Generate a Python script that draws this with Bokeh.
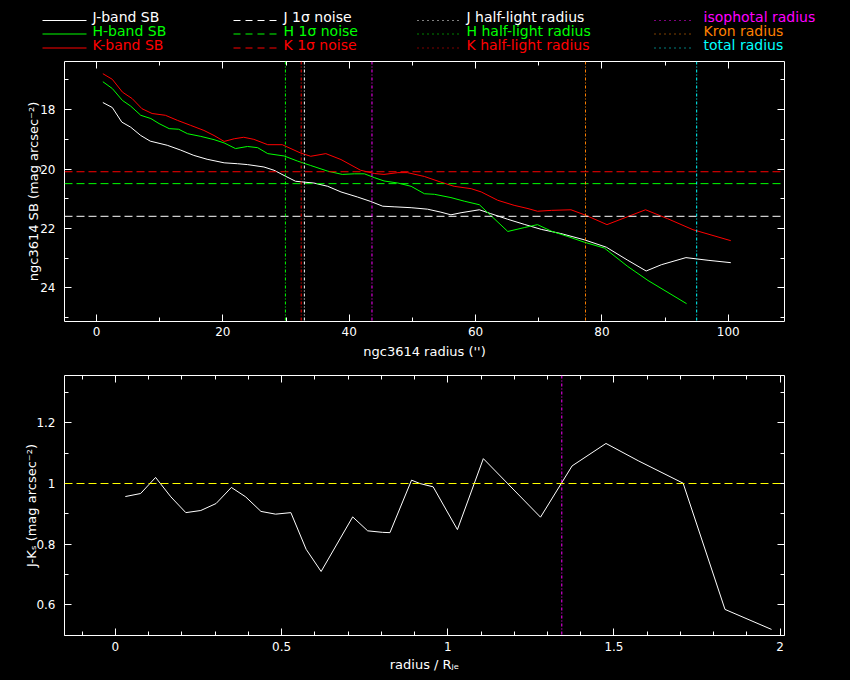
from bokeh.plotting import figure
from bokeh.models import Range1d, LinearAxis, Span, SingleIntervalTicker, CustomJSTickFormatter
from bokeh.layouts import column
from bokeh.embed import file_html
from bokeh.resources import INLINE
from bokeh.core.properties import value

# ---------------- data ----------------
j_r = [1.0, 2.5, 4.0, 5.4, 7.0, 8.5, 11.2, 13.3, 15.4, 17.5, 20.2, 22.3, 23.9, 26.5, 28.1,
       30.0, 31.5, 32.9, 34.4, 36.6, 38.7, 41.3, 43.4, 45.3, 47.1, 49.8, 52.4, 54.5, 56.1,
       57.7, 60.6, 62.4, 65.1, 67.7, 70.4, 73.5, 77.2, 80.7, 84.1, 87.0, 89.4, 93.3, 96.8, 100.4]
j_sb = [17.76, 17.93, 18.42, 18.59, 18.87, 19.06, 19.20, 19.36, 19.54, 19.67, 19.79, 19.82, 19.85,
        19.93, 20.04, 20.25, 20.41, 20.44, 20.47, 20.58, 20.77, 20.94, 21.09, 21.25, 21.27, 21.30,
        21.35, 21.45, 21.54, 21.47, 21.37, 21.50, 21.69, 21.86, 22.03, 22.17, 22.38, 22.63, 23.07,
        23.43, 23.22, 22.98, 23.07, 23.15]

h_r = [1.0, 2.5, 4.1, 5.4, 7.0, 8.6, 9.9, 11.5, 13.0, 14.4, 16.5, 18.6, 20.2, 22.0, 23.9, 25.5,
       27.1, 29.7, 31.8, 33.9, 36.6, 38.9, 40.8, 42.4, 44.0, 45.5, 47.7, 49.8, 51.9, 53.5, 56.1,
       58.2, 60.6, 65.1, 67.7, 69.8, 72.0, 74.6, 77.2, 80.4, 84.1, 87.3, 93.4]
h_sb = [17.06, 17.29, 17.69, 17.88, 18.19, 18.30, 18.47, 18.64, 18.66, 18.81, 18.90, 19.01, 19.12,
        19.31, 19.24, 19.28, 19.48, 19.56, 19.73, 19.88, 20.07, 20.18, 20.16, 20.16, 20.29, 20.40,
        20.47, 20.58, 20.83, 20.85, 20.96, 21.08, 21.20, 22.10, 21.97, 21.87, 22.09, 22.27, 22.46,
        22.66, 23.28, 23.75, 24.53]

k_r = [1.0, 2.5, 4.1, 5.65, 7.2, 8.8, 10.9, 12.8, 14.9, 17.0, 18.6, 20.2, 21.8, 23.3, 24.9, 27.1,
       29.4, 32.3, 33.9, 36.3, 38.7, 41.8, 44.0, 45.5, 47.7, 49.2, 51.9, 54.5, 56.6, 59.3, 60.9,
       63.5, 66.1, 68.3, 69.8, 72.0, 75.1, 77.5, 80.8, 86.9, 90.4, 94.4, 100.4]
k_sb = [16.79, 16.98, 17.41, 17.63, 17.97, 18.13, 18.19, 18.36, 18.53, 18.70, 18.87, 19.07, 18.98,
        18.93, 19.00, 19.18, 19.18, 19.46, 19.57, 19.48, 19.68, 20.04, 20.15, 20.18, 20.12, 20.12,
        20.25, 20.44, 20.58, 20.66, 20.77, 21.05, 21.22, 21.33, 21.42, 21.39, 21.37, 21.56, 21.87,
        21.37, 21.67, 22.04, 22.41]

noise_sb = [21.59, 20.49, 20.09]          # J, H, K 1-sigma noise
halflight_r = [32.9, 29.9, 32.4]          # J, H, K half-light radius
other_r = [43.6, 77.4, 95.0]              # isophotal, Kron, total radius

color_x = [0.030, 0.076, 0.121, 0.167, 0.212, 0.257, 0.303, 0.349, 0.392, 0.438, 0.482, 0.528,
           0.574, 0.619, 0.714, 0.759, 0.804, 0.826, 0.891, 0.916, 0.956, 1.029, 1.107, 1.279,
           1.374, 1.476, 1.573, 1.708, 1.834, 1.974]
color_jk = [0.957, 0.967, 1.020, 0.956, 0.904, 0.911, 0.934, 0.987, 0.956, 0.908, 0.899, 0.904,
            0.783, 0.710, 0.890, 0.844, 0.839, 0.838, 1.011, 1.000, 0.989, 0.848, 1.082, 0.889,
            1.058, 1.132, 1.075, 1.001, 0.585, 0.519]
color_ref = 1.0
iso_r_norm = 1.343

legend_sb = ["J-band SB", "H-band SB", "K-band SB"]
legend_noise = ["J 1σ noise", "H 1σ noise", "K 1σ noise"]
legend_half = ["J half-light radius", "H half-light radius", "K half-light radius"]
legend_other = ["isophotal radius", "Kron radius", "total radius"]

# ---------------- styles ----------------
FONT = "DejaVu Sans"
BAND_COLORS = ["#ffffff", "#00ff00", "#ff0000"]
OTHER_COLORS = ["#ff00ff", "#ff8000", "#00ffff"]
W = 850
FL, FR = 64, 66
FW, FH = 720, 260
LEG_H = 55
DASH = "8 4"
DOTDASH = "3 2 1 2"

NUMFMT = "return Number(tick.toFixed(4)).toString();"


def frame_fig(xr, yr, top, bottom):
    p = figure(frame_width=FW, frame_height=FH, x_range=xr, y_range=yr,
               output_backend="svg", toolbar_location=None,
               min_border_left=FL, min_border_right=FR,
               min_border_top=top, min_border_bottom=bottom,
               background_fill_color="black", border_fill_color="black",
               outline_line_color="white", outline_line_width=1)
    p.grid.visible = False
    return p


def style_axis(ax, ticker, labels=True, label=None, tstandoff=5, lstandoff=2):
    ax.ticker = ticker
    ax.axis_line_color = None
    ax.major_tick_line_color = "white"
    ax.minor_tick_line_color = "white"
    ax.major_tick_in = 7
    ax.major_tick_out = 0
    ax.minor_tick_in = 4
    ax.minor_tick_out = 0
    if labels:
        ax.formatter = CustomJSTickFormatter(code=NUMFMT)
        ax.major_label_text_color = "white"
        ax.major_label_text_font = FONT
        ax.major_label_text_font_size = "12px"
        ax.major_label_standoff = tstandoff
        ax.axis_label = label
        ax.axis_label_text_color = "white"
        ax.axis_label_text_font = FONT
        ax.axis_label_text_font_size = "13px"
        ax.axis_label_text_font_style = "normal"
        ax.axis_label_standoff = lstandoff
    else:
        ax.major_label_text_color = None
        ax.major_label_text_font_size = "1px"
        ax.major_label_standoff = 0


def add_box_axes(p, xt, yt):
    top = LinearAxis()
    right = LinearAxis()
    p.add_layout(top, "above")
    p.add_layout(right, "right")
    style_axis(top, xt, labels=False)
    style_axis(right, yt, labels=False)


# ---------------- legend strip ----------------
leg = figure(width=W, height=LEG_H, x_range=Range1d(0, W), y_range=Range1d(LEG_H, 0),
             output_backend="svg", toolbar_location=None,
             x_axis_type=None, y_axis_type=None, min_border=0,
             background_fill_color="black", border_fill_color="black",
             outline_line_color=None)
leg.frame_align = False
leg.grid.visible = False

row_line_y = [20.0, 33.5, 47.5]
TEXT_SHIFT = 3.5
columns = [
    (legend_sb, BAND_COLORS, None, 42, 86, 92),
    (legend_noise, BAND_COLORS, "7 5", 233, 277, 283),
    (legend_half, BAND_COLORS, "1 4", 417, 458, 466),
    (legend_other, OTHER_COLORS, "1 4", 654, 694, 703),
]
for texts, cols, dash, x0, x1, xt in columns:
    for t, c, y in zip(texts, cols, row_line_y):
        kw = {} if dash is None else {"line_dash": dash}
        leg.line([x0, x1], [y, y], line_color=c, line_width=1, **kw)
        leg.text(x=[xt], y=[y - TEXT_SHIFT], text=[t], text_color=c, text_font=value(FONT),
                 text_font_size="14px", text_baseline="alphabetic", text_align="left")

# ---------------- top panel: surface brightness ----------------
top_p = frame_fig(Range1d(-5.07, 108.9), Range1d(25.13, 16.38), 6, 48)
xt1 = SingleIntervalTicker(interval=20, num_minor_ticks=2)
yt1 = SingleIntervalTicker(interval=2, num_minor_ticks=2)
style_axis(top_p.xaxis[0], xt1, label="ngc3614 radius ('')", tstandoff=5, lstandoff=5)
style_axis(top_p.yaxis[0], yt1, label="ngc3614 SB (mag arcsec⁻²)", tstandoff=9, lstandoff=-4)
add_box_axes(top_p, xt1, yt1)

for sb, c in zip(noise_sb, BAND_COLORS):
    top_p.add_layout(Span(location=sb, dimension="width", line_color=c,
                          line_dash=DASH, line_width=1))
for r, c in zip(halflight_r, BAND_COLORS):
    top_p.add_layout(Span(location=r, dimension="height", line_color=c,
                          line_dash=DOTDASH, line_width=1))
for r, c in zip(other_r, OTHER_COLORS):
    top_p.add_layout(Span(location=r, dimension="height", line_color=c,
                          line_dash=DOTDASH, line_width=1))

top_p.line(j_r, j_sb, line_color=BAND_COLORS[0], line_width=1)
top_p.line(h_r, h_sb, line_color=BAND_COLORS[1], line_width=1)
top_p.line(k_r, k_sb, line_color=BAND_COLORS[2], line_width=1)

# ---------------- bottom panel: J-K colour ----------------
bot_p = frame_fig(Range1d(-0.153, 2.013), Range1d(0.499, 1.356), 6, 45)
xt2 = SingleIntervalTicker(interval=0.5, num_minor_ticks=5)
yt2 = SingleIntervalTicker(interval=0.2, num_minor_ticks=2)
style_axis(bot_p.xaxis[0], xt2, label="radius / Rⱼₑ", tstandoff=6, lstandoff=3)
style_axis(bot_p.yaxis[0], yt2, label="J-Kₛ (mag arcsec⁻²)", tstandoff=9, lstandoff=-6)
add_box_axes(bot_p, xt2, yt2)

bot_p.add_layout(Span(location=color_ref, dimension="width", line_color="#ffff00",
                      line_dash=DASH, line_width=1))
bot_p.add_layout(Span(location=iso_r_norm, dimension="height", line_color=OTHER_COLORS[0],
                      line_dash=DOTDASH, line_width=1))
bot_p.line(color_x, color_jk, line_color="white", line_width=1)

layout = column(leg, top_p, bot_p, spacing=0, background="black")

html = file_html(layout, INLINE, title="ngc3614")
html = html.replace("</head>", "<style>html,body{background:#000;}</style></head>", 1)
open("out.html", "w").write(html)
